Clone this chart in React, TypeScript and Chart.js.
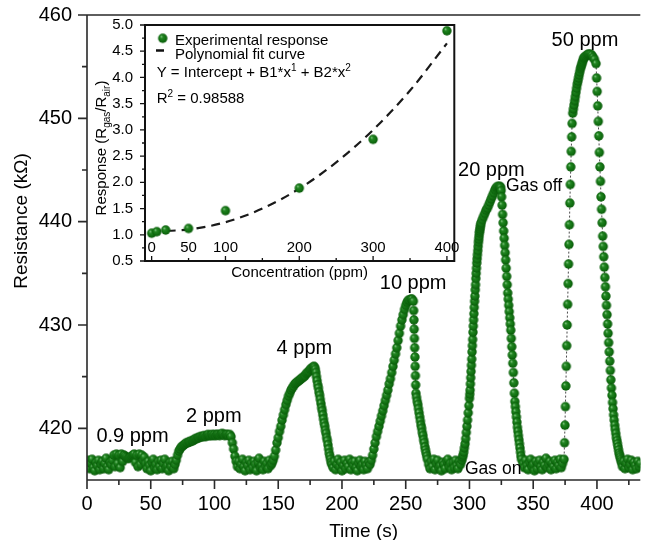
import React, { useEffect, useRef } from 'react';
import { Chart, registerables } from 'chart.js';

Chart.register(...registerables);

const FONT = '"Liberation Sans", Arial, Helvetica, sans-serif';

// ---------- Main chart: resistance (kΩ) vs time (s) ----------
const baseline0 = [416.3, 416.9, 416.1, 416.6, 417.0, 416.2, 415.9, 416.7, 416.4, 416.9, 416.0, 416.5, 416.8, 416.1, 416.6, 417.1, 416.3, 416.0, 416.7, 416.5];
const ppm09 = [416.9, 417.4, 416.3, 417.5, 416.6, 417.4, 416.2, 417.5, 416.8, 417.4, 417.3, 417.2, 417.1, 417.1, 417.2, 417.3, 417.4, 417.5, 416.7, 417.4, 416.3, 417.5, 416.5, 417.4, 416.9, 417.2];
const baseline1 = [416.6, 416.1, 416.8, 416.4, 415.9, 416.7, 417.0, 416.2, 416.5, 416.0, 416.8, 416.3, 416.9, 416.1, 416.6, 417.0, 416.2, 416.4, 415.9, 416.7, 416.3, 416.8, 416.1];
const ppm2 = [416.5, 416.9, 417.4, 417.8, 418.0, 418.2, 418.3, 418.4, 418.5, 418.6, 418.6, 418.7, 418.7, 418.8, 418.8, 418.9, 419.0, 419.0, 419.1, 419.1, 419.2, 419.2, 419.2, 419.3, 419.2, 419.3, 419.4, 419.3, 419.3, 419.4, 419.3, 419.4, 419.3, 419.4, 419.4, 419.3, 419.4, 419.5, 419.4, 419.3, 419.4, 419.4, 419.3, 419.4, 419.2, 418.6, 418.0, 417.3, 416.8, 416.3];
const baseline2 = [416.8, 416.1, 416.5, 417.0, 416.3, 415.9, 416.7, 416.4, 416.9, 416.0, 416.6, 416.2, 416.8, 416.5, 415.9, 416.7, 417.1, 416.2, 416.4, 416.0, 416.8, 416.3, 416.6, 416.1, 416.9, 416.4];
const ppm4Rise = [416.6, 416.9, 417.3, 417.9, 418.6, 419.1, 419.7, 420.2, 420.8, 421.3, 421.8, 422.3, 422.7, 423.1, 423.4, 423.7, 423.9, 424.1, 424.3, 424.4, 424.5, 424.6, 424.7, 424.8, 424.9, 425.0, 425.1, 425.3, 425.4, 425.5, 425.7, 425.8, 425.9, 426.0];
const ppm4Fall = [425.9, 425.7, 425.4, 425.0, 424.6, 424.2, 423.9, 423.5, 423.2, 422.8, 422.4, 422.0, 421.7, 421.3, 420.9, 420.5, 420.2, 419.8, 419.5, 419.1, 418.8, 418.4, 418.0, 417.6, 417.3, 417.0, 416.7, 416.5];
const baseline3 = [416.2, 416.8, 416.0, 416.5, 417.0, 416.3, 416.7, 415.9, 416.4, 416.9, 416.1, 416.6, 416.3, 417.0, 416.0, 416.7, 416.4, 416.8, 416.2, 415.9, 416.6, 416.9, 416.3, 416.5, 416.0, 416.8, 416.4, 416.1, 416.7];
const ppm10Rise = [416.5, 416.9, 417.4, 418.0, 418.6, 419.2, 419.7, 420.2, 420.7, 421.2, 421.7, 422.2, 422.7, 423.2, 423.7, 424.3, 424.8, 425.4, 426.0, 426.6, 427.2, 427.8, 428.5, 429.2, 429.9, 430.5, 431.0, 431.5, 431.9, 432.2, 432.4, 432.4, 432.5, 432.5];
const ppm10Drop = [432.3, 431.4, 430.5, 429.6, 428.7, 427.8, 426.9, 426.0, 425.1, 424.2, 423.4];
const ppm10Tail = [423.0, 422.6, 422.3, 421.9, 421.5, 421.1, 420.7, 420.3, 420.0, 419.6, 419.3, 418.9, 418.6, 418.2, 417.9, 417.6, 417.3, 417.0];
const baseline4 = [416.5, 416.1, 416.8, 416.3, 417.0, 416.0, 416.6, 416.9, 416.2, 416.4, 415.9, 416.7, 416.5, 416.1, 416.8, 417.0, 416.3, 416.6, 416.0, 416.7, 416.2, 416.9, 416.4, 416.1, 416.8, 416.5];
const ppm20RiseA = [416.9, 417.2, 417.4, 417.7, 418.1, 418.5, 419.0, 419.6, 420.2, 420.8, 421.5, 422.2, 422.9];
const ppm20RiseB = [423.3, 423.7, 424.3, 424.9, 425.5, 426.1, 426.7, 427.4, 428.0, 428.6, 429.3, 429.9, 430.5, 431.1, 431.7, 432.3, 432.8, 433.4, 433.9, 434.5, 435.0, 435.5, 436.0, 436.4, 436.8, 437.2, 437.6, 438.0, 438.3, 438.6, 438.9, 439.1, 439.3, 439.5, 439.7, 439.9];
const ppm20Top = [440.2, 440.5, 440.8, 441.1, 441.3, 441.6, 441.9, 442.2, 442.5, 442.8, 443.1, 443.3, 443.4, 443.4];
const ppm20Fall = [443.4, 443.3, 443.0, 442.4, 441.6, 440.7, 439.9, 439.1, 438.4, 437.7, 437.0, 436.3, 435.5, 434.7, 433.9, 433.1, 432.5, 431.9, 431.3, 430.7, 430.1, 429.5, 428.7, 427.9, 427.1, 426.3, 425.4, 424.4, 423.4, 422.6, 422.1, 421.6, 421.1, 420.6, 420.1, 419.7, 419.3, 418.9, 418.5, 418.1, 417.7, 417.3, 417.0];
const baseline5 = [416.6, 416.2, 416.9, 416.4, 416.0, 416.7, 417.0, 416.3, 416.5, 415.9, 416.8, 416.1, 416.6, 416.9, 416.3, 416.0, 416.7, 416.4, 417.1, 416.2, 416.5, 416.8, 416.0, 416.6, 416.3, 416.9, 416.1, 416.7, 416.4, 417.0, 416.2, 416.6];
const ppm50Rise = [417.0, 418.6, 420.3, 422.1, 424.1, 426.0, 428.0, 430.0, 432.0, 434.0, 435.9, 437.8, 439.7, 441.8, 443.6, 445.3, 446.8, 448.2, 449.5];
const ppm50Bend = [450.5, 450.9, 451.3, 451.7, 452.1, 452.5, 452.9, 453.3, 453.6, 453.9, 454.2, 454.5, 454.8, 455.0, 455.2, 455.4, 455.6, 455.8, 455.9];
const ppm50Top = [456.0, 456.1, 456.2, 456.2, 456.2, 456.1, 455.9, 455.7];
const ppm50Fall = [455.3, 453.9, 452.6, 451.2, 449.7, 448.3, 446.7, 445.3, 443.9, 442.4, 441.2, 439.9, 438.6, 437.6, 436.6, 435.6, 434.6, 433.7, 432.8, 431.9, 431.0, 430.1, 429.2, 428.3, 427.4, 426.5, 425.6, 424.7, 423.9, 423.2, 422.5, 421.9, 421.3, 420.8, 420.3, 419.9, 419.5, 419.1, 418.8, 418.5, 418.2, 417.9, 417.6, 417.4, 417.2, 417.0, 416.8, 416.6];
const baseline6 = [416.3, 416.8, 416.1, 416.6, 417.0, 416.2, 416.5, 416.9, 416.0, 416.7, 416.4, 416.1, 416.8, 416.3, 416.6];

// [start time (s), sampling step (s), values]
const SEGMENTS: [number, number, number[]][] = [
  [0, 1, baseline0],
  [20, 1, ppm09],
  [46, 1, baseline1],
  [69, 1, ppm2],
  [119, 1, baseline2],
  [145, 1, ppm4Rise],
  [178.5, 0.5, ppm4Fall],
  [193, 1, baseline3],
  [222, 1, ppm10Rise],
  [256, 0.2, ppm10Drop],
  [258.5, 0.5, ppm10Tail],
  [268, 1, baseline4],
  [294, 0.5, ppm20RiseA],
  [300.25, 0.25, ppm20RiseB],
  [310, 1, ppm20Top],
  [324, 0.4, ppm20Fall],
  [342, 1, baseline5],
  [374.2, 0.35, ppm50Rise],
  [381, 0.5, ppm50Bend],
  [391, 1, ppm50Top],
  [399.3, 0.43, ppm50Fall],
  [420, 1, baseline6],
];

const timeTicks = [0, 50, 100, 150, 200, 250, 300, 350, 400];
const timeMinorTicks = [25, 75, 125, 175, 225, 275, 325, 375, 425];
const resistanceTicks = [420, 430, 440, 450, 460];
const resistanceMinorTicks = [425, 435, 445, 455];

const annotationLabels = ['0.9 ppm', '2 ppm', '4 ppm', '10 ppm', '20 ppm', 'Gas off', '50 ppm', 'Gas on'];
const annotationTime = [35.7, 99.5, 170.5, 255.8, 317.2, 350.7, 390.6, 318.6];
const annotationResistance = [418.67, 420.6, 427.2, 433.5, 444.4, 443.0, 457.0, 415.6];
const annotationSize = [20, 20, 20, 20, 20, 17.5, 20, 17.5];

// ---------- Inset: response vs concentration ----------
const concentration = [0, 7, 19, 50, 100, 200, 300, 400];
const response = [1.03, 1.06, 1.09, 1.12, 1.46, 1.89, 2.82, 4.89];
const fitConcentration = [0, 50, 100, 150, 200, 250, 300, 350, 400];
const fitResponse = [1.07, 1.10, 1.24, 1.50, 1.88, 2.38, 3.00, 3.75, 4.65];

const respTicks = [0.5, 1.0, 1.5, 2.0, 2.5, 3.0, 3.5, 4.0, 4.5, 5.0];
const respMinorTicks = [0.75, 1.25, 1.75, 2.25, 2.75, 3.25, 3.75, 4.25, 4.75];
const concTicks = [0, 100, 200, 300, 400];
const concMinorTicks = [50, 150, 250, 350];
const concLabels = [0, 50, 100, 200, 300, 400];

function buildSeries() {
  const pts: { x: number; y: number }[] = [];
  SEGMENTS.forEach(([t0, dt, vals]) => {
    vals.forEach((v, i) => pts.push({ x: +(t0 + i * dt).toFixed(3), y: v }));
  });
  return pts;
}

function makeSphere(r: number): HTMLCanvasElement {
  const size = Math.ceil(r * 2) + 2;
  const c = document.createElement('canvas');
  c.width = size;
  c.height = size;
  const g = c.getContext('2d')!;
  const cx = size / 2;
  const cy = size / 2;
  const grad = g.createRadialGradient(cx - r * 0.35, cy - r * 0.4, r * 0.05, cx, cy, r);
  grad.addColorStop(0, '#86c886');
  grad.addColorStop(0.28, '#238623');
  grad.addColorStop(0.7, '#117011');
  grad.addColorStop(1, '#0a590a');
  g.fillStyle = grad;
  g.beginPath();
  g.arc(cx, cy, r, 0, Math.PI * 2);
  g.fill();
  return c;
}

type Part = [string, 'n' | 'sup' | 'sub'];

function drawRich(ctx: CanvasRenderingContext2D, parts: Part[], x: number, y: number, size: number, small: number) {
  let cx = x;
  parts.forEach(([t, k]) => {
    ctx.font = `${k === 'n' ? size : small}px ${FONT}`;
    const dy = k === 'sup' ? -size * 0.42 : k === 'sub' ? size * 0.25 : 0;
    ctx.fillText(t, cx, y + dy);
    cx += ctx.measureText(t).width;
  });
}

function richWidth(ctx: CanvasRenderingContext2D, parts: Part[], size: number, small: number) {
  let w = 0;
  parts.forEach(([t, k]) => {
    ctx.font = `${k === 'n' ? size : small}px ${FONT}`;
    w += ctx.measureText(t).width;
  });
  return w;
}

const zeroPad = (s: any) => {
  s.paddingTop = 0;
  s.paddingBottom = 0;
  s.paddingLeft = 0;
  s.paddingRight = 0;
};

export default function App() {
  const mainRef = useRef<HTMLCanvasElement>(null);
  const insetRef = useRef<HTMLCanvasElement>(null);

  useEffect(() => {
    document.body.style.margin = '0';
    const sphere = makeSphere(4.7);
    const AXIS = '#2a2a2a';

    const mainDecor = {
      id: 'mainDecor',
      afterDraw(chart: any) {
        const { ctx, chartArea: a, scales } = chart;
        const xs = scales.x;
        const ys = scales.y;
        ctx.save();
        ctx.strokeStyle = AXIS;
        ctx.lineWidth = 1.6;
        ctx.beginPath();
        ctx.moveTo(a.left, a.top);
        ctx.lineTo(a.right, a.top);
        ctx.moveTo(a.left, a.top);
        ctx.lineTo(a.left, a.bottom);
        ctx.moveTo(a.left, a.bottom);
        ctx.lineTo(a.right, a.bottom);
        timeTicks.forEach((v) => {
          const p = xs.getPixelForValue(v);
          ctx.moveTo(p, a.bottom);
          ctx.lineTo(p, a.bottom + 9);
        });
        timeMinorTicks.forEach((v) => {
          const p = xs.getPixelForValue(v);
          if (p <= a.right) {
            ctx.moveTo(p, a.bottom);
            ctx.lineTo(p, a.bottom + 5);
          }
        });
        resistanceTicks.forEach((v) => {
          const p = ys.getPixelForValue(v);
          ctx.moveTo(a.left - 9, p);
          ctx.lineTo(a.left, p);
        });
        resistanceMinorTicks.forEach((v) => {
          const p = ys.getPixelForValue(v);
          ctx.moveTo(a.left - 5, p);
          ctx.lineTo(a.left, p);
        });
        ctx.stroke();

        ctx.fillStyle = '#000';
        ctx.textAlign = 'center';
        ctx.textBaseline = 'alphabetic';
        ctx.font = `19px ${FONT}`;
        ctx.fillText('Time (s)', (a.left + a.right) / 2, 537);
        ctx.save();
        ctx.translate(27, 221);
        ctx.rotate(-Math.PI / 2);
        ctx.fillText('Resistance (kΩ)', 0, 0);
        ctx.restore();

        annotationLabels.forEach((t, i) => {
          ctx.font = `${annotationSize[i]}px ${FONT}`;
          ctx.fillText(t, xs.getPixelForValue(annotationTime[i]), ys.getPixelForValue(annotationResistance[i]));
        });
        ctx.restore();
      },
    };

    const insetDecor = {
      id: 'insetDecor',
      afterDraw(chart: any) {
        const { ctx, chartArea: a, scales } = chart;
        const xs = scales.x;
        const ys = scales.y;
        ctx.save();
        ctx.strokeStyle = '#111';
        ctx.lineWidth = 2;
        ctx.strokeRect(a.left, a.top, a.right - a.left, a.bottom - a.top);
        ctx.lineWidth = 1.3;
        ctx.beginPath();
        respTicks.forEach((v) => {
          const p = ys.getPixelForValue(v);
          ctx.moveTo(a.left - 5, p);
          ctx.lineTo(a.left, p);
        });
        respMinorTicks.forEach((v) => {
          const p = ys.getPixelForValue(v);
          ctx.moveTo(a.left - 3, p);
          ctx.lineTo(a.left, p);
        });
        concTicks.forEach((v) => {
          const p = xs.getPixelForValue(v);
          ctx.moveTo(p, a.bottom);
          ctx.lineTo(p, a.bottom - 5);
        });
        concMinorTicks.forEach((v) => {
          const p = xs.getPixelForValue(v);
          ctx.moveTo(p, a.bottom);
          ctx.lineTo(p, a.bottom - 3);
        });
        ctx.stroke();

        ctx.fillStyle = '#000';
        ctx.font = `15px ${FONT}`;
        ctx.textAlign = 'center';
        ctx.textBaseline = 'middle';
        concLabels.forEach((v) => {
          ctx.fillText(String(v), xs.getPixelForValue(v), a.bottom - 13);
        });
        ctx.fillText('Concentration (ppm)', (a.left + a.right) / 2, a.bottom + 12);

        // rotated y title
        const titleParts: Part[] = [['Response (R', 'n'], ['gas', 'sub'], ['/R', 'n'], ['air', 'sub'], [')', 'n']];
        ctx.save();
        ctx.translate(a.left - 39, (a.top + a.bottom) / 2 + 5);
        ctx.rotate(-Math.PI / 2);
        ctx.textAlign = 'left';
        ctx.textBaseline = 'alphabetic';
        const tw = richWidth(ctx, titleParts, 15, 10);
        drawRich(ctx, titleParts, -tw / 2, 0, 15, 10);
        ctx.restore();

        // legend
        ctx.drawImage(sphere, a.left + 17.7 - sphere.width / 2, a.top + 13.3 - sphere.height / 2);
        ctx.strokeStyle = '#111';
        ctx.lineWidth = 2.5;
        ctx.beginPath();
        ctx.moveTo(a.left + 11, a.top + 25.5);
        ctx.lineTo(a.left + 19, a.top + 25.5);
        ctx.stroke();
        ctx.textAlign = 'left';
        ctx.textBaseline = 'alphabetic';
        ctx.font = `15px ${FONT}`;
        ctx.fillText('Experimental response', a.left + 30, a.top + 19.7);
        ctx.fillText('Polynomial fit curve', a.left + 30, a.top + 34);
        drawRich(ctx, [['Y = Intercept + B1*x', 'n'], ['1', 'sup'], [' + B2*x', 'n'], ['2', 'sup']], a.left + 11.7, a.top + 52.4, 15, 10);
        drawRich(ctx, [['R', 'n'], ['2', 'sup'], [' = 0.98588', 'n']], a.left + 11.7, a.top + 78.4, 15, 10);
        ctx.restore();
      },
    };

    const main = new Chart(mainRef.current!, {
      type: 'scatter',
      data: {
        datasets: [
          {
            data: buildSeries(),
            showLine: true,
            borderColor: 'rgba(45,45,45,0.85)',
            borderWidth: 1,
            borderDash: [2, 2],
            pointStyle: sphere as any,
            pointRadius: 4.7,
            pointHoverRadius: 4.7,
            tension: 0,
          } as any,
        ],
      },
      options: {
        responsive: false,
        animation: false,
        devicePixelRatio: 1,
        events: [],
        layout: { padding: { top: 15, right: 0, bottom: 0, left: 0 } },
        plugins: { legend: { display: false }, tooltip: { enabled: false } },
        scales: {
          x: {
            type: 'linear',
            min: 0,
            max: 434,
            grid: { display: false, drawTicks: false },
            border: { display: false },
            ticks: { color: '#000', font: { family: FONT, size: 20 }, padding: 12, maxRotation: 0, autoSkip: false },
            afterBuildTicks: (s: any) => {
              s.ticks = timeTicks.map((v) => ({ value: v }));
            },
            afterFit: (s: any) => {
              s.height = 60;
              zeroPad(s);
            },
          },
          y: {
            type: 'linear',
            min: 415,
            max: 460,
            grid: { display: false, drawTicks: false },
            border: { display: false },
            ticks: { color: '#000', font: { family: FONT, size: 20 }, padding: 15 },
            afterBuildTicks: (s: any) => {
              s.ticks = resistanceTicks.map((v) => ({ value: v }));
            },
            afterFit: (s: any) => {
              s.width = 87;
              zeroPad(s);
            },
          },
        },
      } as any,
      plugins: [mainDecor],
    });

    const inset = new Chart(insetRef.current!, {
      type: 'scatter',
      data: {
        datasets: [
          {
            data: concentration.map((c, i) => ({ x: c, y: response[i] })),
            pointStyle: sphere as any,
            pointRadius: 4.7,
            pointHoverRadius: 4.7,
            showLine: false,
          } as any,
          {
            data: fitConcentration.map((c, i) => ({ x: c, y: fitResponse[i] })),
            showLine: true,
            borderColor: '#1a1a1a',
            borderWidth: 2.2,
            borderDash: [9, 6],
            pointRadius: 0,
            cubicInterpolationMode: 'monotone',
          } as any,
        ],
      },
      options: {
        responsive: false,
        animation: false,
        devicePixelRatio: 1,
        events: [],
        layout: { padding: { top: 8, right: 4, bottom: 0, left: 0 } },
        plugins: { legend: { display: false }, tooltip: { enabled: false } },
        scales: {
          x: {
            type: 'linear',
            min: -9,
            max: 410,
            grid: { display: false, drawTicks: false },
            border: { display: false },
            ticks: { display: false },
            afterFit: (s: any) => {
              s.height = 28;
              zeroPad(s);
            },
          },
          y: {
            type: 'linear',
            min: 0.5,
            max: 5.0,
            grid: { display: false, drawTicks: false },
            border: { display: false },
            ticks: {
              color: '#000',
              font: { family: FONT, size: 15, lineHeight: 1 },
              padding: 12,
              callback: (v: any) => Number(v).toFixed(1),
            },
            afterBuildTicks: (s: any) => {
              s.ticks = respTicks.map((v) => ({ value: v }));
            },
            afterFit: (s: any) => {
              s.width = 57;
              zeroPad(s);
            },
          },
        },
      } as any,
      plugins: [insetDecor],
    });

    return () => {
      main.destroy();
      inset.destroy();
    };
  }, []);

  return (
    <div style={{ position: 'relative', width: 646, height: 540, background: '#fff', overflow: 'hidden' }}>
      <canvas ref={mainRef} width={646} height={540} style={{ position: 'absolute', left: 0, top: 0 }} />
      <canvas ref={insetRef} width={372} height={272} style={{ position: 'absolute', left: 88, top: 17 }} />
    </div>
  );
}
